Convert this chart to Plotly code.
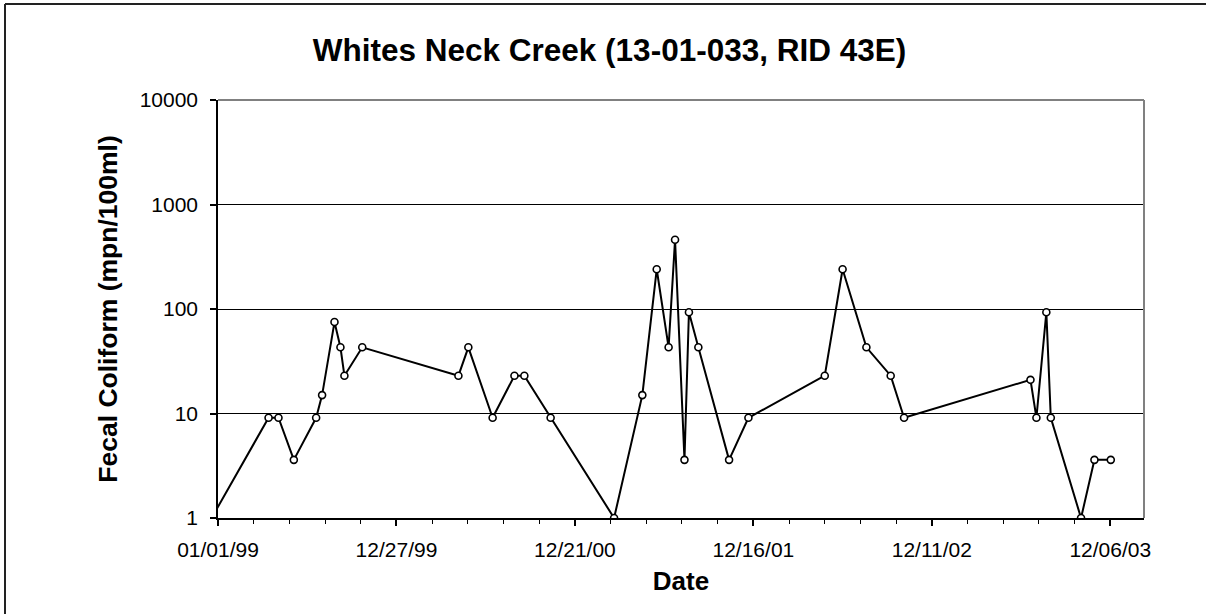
import plotly.graph_objects as go
import pandas as pd

# ---- data ----
dates = [
    "1998-12-19",
    "1999-04-13", "1999-05-03", "1999-06-03", "1999-07-18", "1999-07-30",
    "1999-08-24", "1999-09-05", "1999-09-13", "1999-10-19",
    "2000-04-30", "2000-05-20", "2000-07-08", "2000-08-21", "2000-09-10",
    "2000-11-02",
    "2001-03-10", "2001-05-06", "2001-06-04", "2001-06-28", "2001-07-11",
    "2001-07-30", "2001-08-08", "2001-08-27", "2001-10-28", "2001-12-06",
    "2002-05-09", "2002-06-14", "2002-08-01", "2002-09-19", "2002-10-16",
    "2003-06-28", "2003-07-10", "2003-07-30", "2003-08-08", "2003-10-08",
    "2003-11-04", "2003-12-07",
]
fecal_coliform = [
    1,
    9.1, 9.1, 3.6, 9.1, 15,
    75, 43, 23, 43,
    23, 43, 9.1, 23, 23,
    9.1,
    1, 15, 240, 43, 460,
    3.6, 93, 43, 3.6, 9.1,
    23, 240, 43, 23, 9.1,
    21, 9.1, 93, 9.1, 1,
    3.6, 3.6,
]
y_tick_values = [1, 10, 100, 1000, 10000]
y_tick_labels = ["1", "10", "100", "1000", "10000"]

title_text = "Whites Neck Creek (13-01-033, RID 43E)"
x_title = "Date"
y_title = "Fecal Coliform (mpn/100ml)"

# ---- layout geometry ----
W, H = 1206, 614
L, R, T, B = 218, 1144, 100, 518
FONT = "Liberation Sans, Arial, sans-serif"

x_start = pd.Timestamp("1999-01-01")
x_end = x_start + pd.Timedelta(days=1868)
DAY_MS = 86400000

fig = go.Figure()
fig.add_trace(go.Scatter(
    x=pd.to_datetime(dates), y=fecal_coliform,
    mode="lines+markers",
    line=dict(color="black", width=2),
    marker=dict(symbol="circle", size=7, color="white",
                line=dict(color="black", width=1.6)),
    showlegend=False,
))

px_to_xp = lambda px: (px - L) / (R - L)
px_to_yp = lambda py: (B - py) / (B - T)

fig.update_layout(
    width=W, height=H,
    margin=dict(l=L, r=W - R, t=T, b=H - B, pad=0),
    paper_bgcolor="white", plot_bgcolor="white",
    font=dict(family=FONT, color="black", size=21),
    title=dict(text="<b>" + title_text + "</b>",
               font=dict(size=31.5, family=FONT, color="black"),
               x=609.5 / W, xref="container", xanchor="center",
               y=1 - 50 / H, yref="container", yanchor="middle"),
    xaxis=dict(
        type="date",
        range=[x_start, x_end],
        tickmode="linear", tick0=x_start, dtick=360 * DAY_MS,
        tickformat="%m/%d/%y",
        ticks="outside", ticklen=6, tickwidth=1.5, tickcolor="black",
        minor=dict(ticks="outside", ticklen=4, tickwidth=1, tickcolor="black",
                   tickmode="linear", tick0=x_start, dtick=72 * DAY_MS,
                   showgrid=False),
        showgrid=False, zeroline=False,
        showline=True, linecolor="black", linewidth=1.5,
        tickfont=dict(size=21, family=FONT, color="black"),
        title=dict(text="<b>" + x_title + "</b>",
                   font=dict(size=26, family=FONT, color="black"),
                   standoff=12),
        ticklabelstandoff=6,
    ),
    yaxis=dict(
        type="log", range=[0, 4],
        tickmode="array", tickvals=y_tick_values, ticktext=y_tick_labels,
        ticks="outside", ticklen=6, tickwidth=1.5, tickcolor="black",
        showgrid=True, gridcolor="black", gridwidth=1,
        zeroline=False,
        showline=True, linecolor="black", linewidth=1.5,
        tickfont=dict(size=21, family=FONT, color="black"),
        title=dict(text="<b>" + y_title + "</b>",
                   font=dict(size=26.5, family=FONT, color="black"),
                   standoff=14),
        ticklabelstandoff=8,
    ),
    shapes=[
        # plot-area border (top and right) in gray
        dict(type="line", xref="paper", yref="paper", x0=0, x1=1, y0=1, y1=1,
             line=dict(color="#808080", width=2), layer="above"),
        dict(type="line", xref="paper", yref="paper", x0=1, x1=1, y0=0, y1=1,
             line=dict(color="#808080", width=2), layer="above"),
        # outer chart border (left and top)
        dict(type="line", xref="paper", yref="paper",
             x0=px_to_xp(5), x1=px_to_xp(5), y0=px_to_yp(4), y1=px_to_yp(H + 20),
             line=dict(color="#222222", width=2)),
        dict(type="line", xref="paper", yref="paper",
             x0=px_to_xp(5), x1=px_to_xp(W + 20), y0=px_to_yp(4), y1=px_to_yp(4),
             line=dict(color="#222222", width=2)),
    ],
)

fig.write_html("out.html",
               config={"displayModeBar": False},
               post_script="document.body.style.margin='0';"
                           "document.body.style.overflow='hidden';")
